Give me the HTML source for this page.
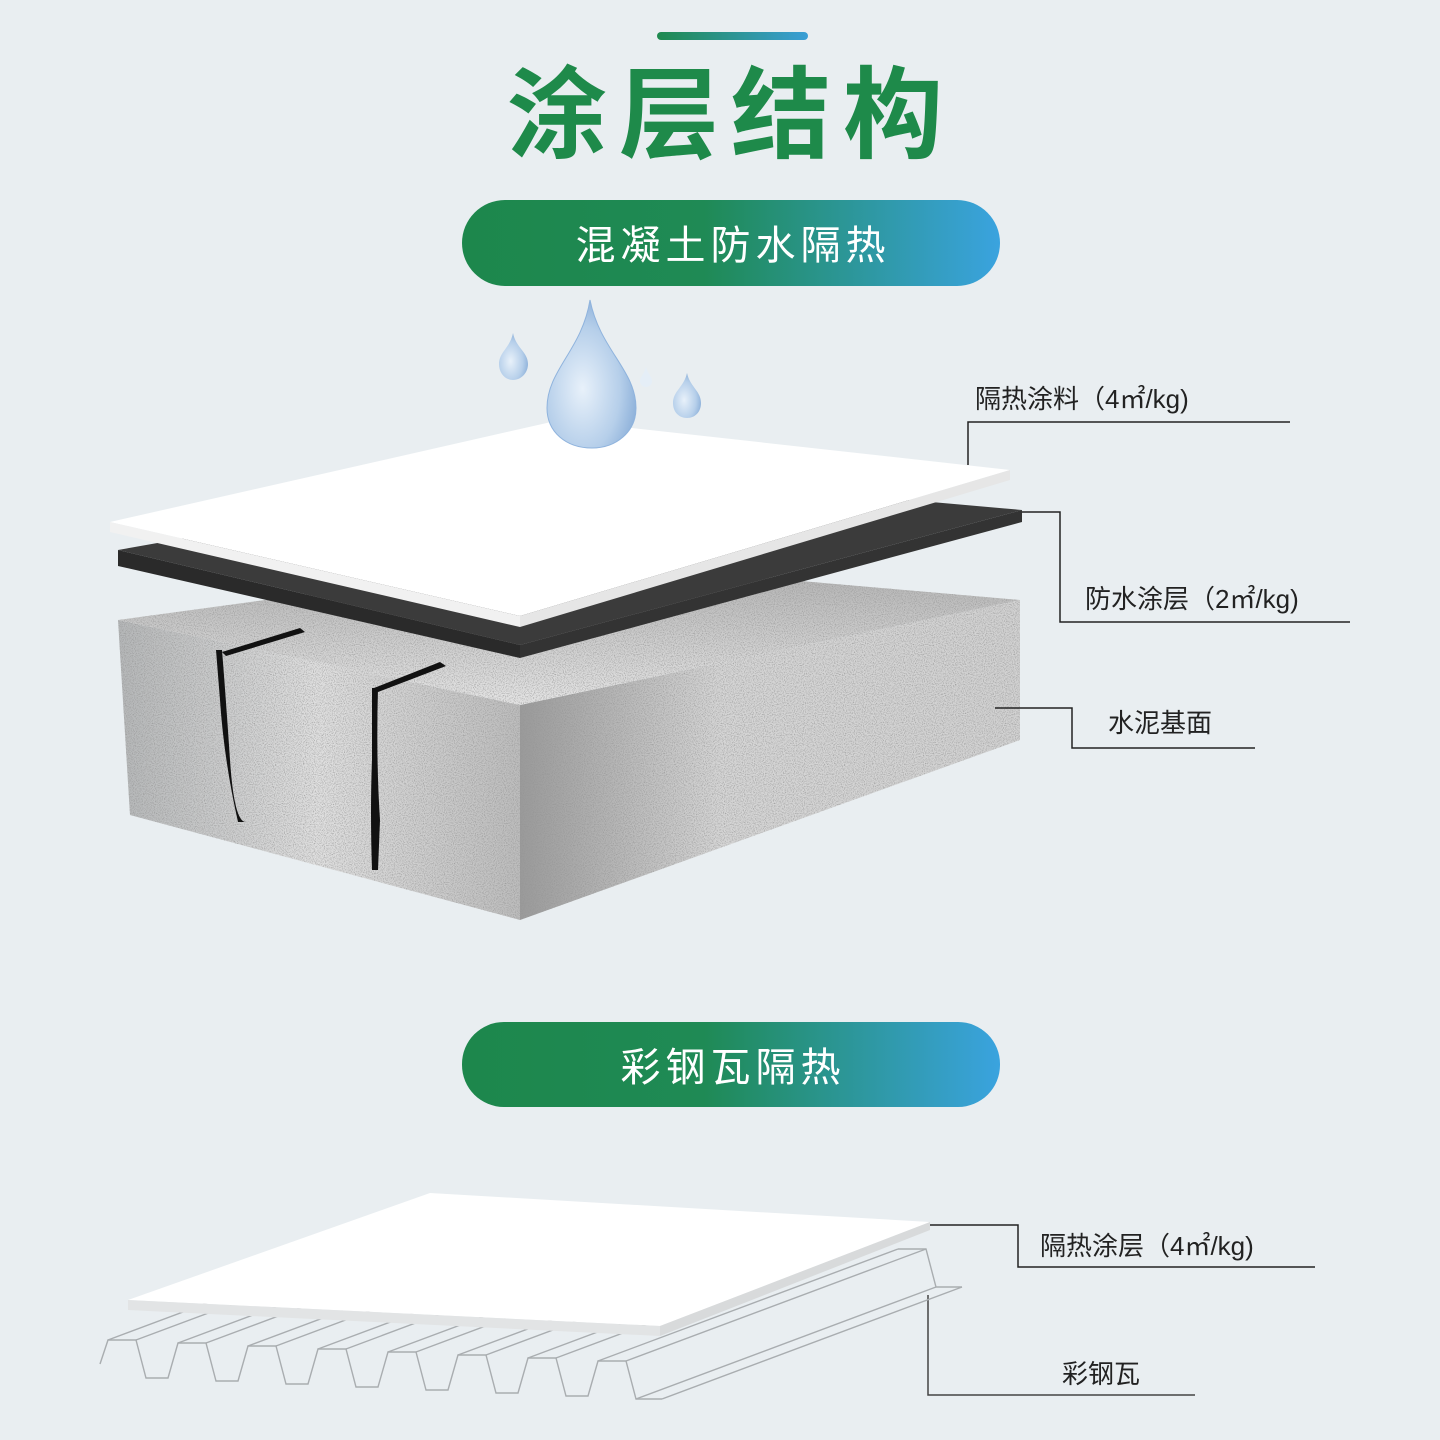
<!DOCTYPE html>
<html><head><meta charset="utf-8"><style>
html,body{margin:0;padding:0;background:#e9eef1;}
svg{display:block}
text{font-family:"Liberation Sans","Noto Sans CJK SC",sans-serif;}
</style></head><body>
<svg width="1440" height="1440" viewBox="0 0 1440 1440" xmlns="http://www.w3.org/2000/svg">
<defs>
<linearGradient id="pill" x1="0" x2="1" y1="0" y2="0">
<stop offset="0" stop-color="#1d874c"/><stop offset="0.45" stop-color="#1f8a55"/><stop offset="1" stop-color="#3aa3df"/>
</linearGradient>
<linearGradient id="bar" x1="0" x2="1"><stop offset="0" stop-color="#1f8a4f"/><stop offset="1" stop-color="#3a9ed6"/></linearGradient>
<radialGradient id="drop" cx="0.4" cy="0.6" r="0.7">
<stop offset="0" stop-color="#e8f1fa"/><stop offset="0.6" stop-color="#b6cfea"/><stop offset="1" stop-color="#7fa6d4"/>
</radialGradient>
<filter id="noise" x="0" y="0" width="1" height="1">
<feTurbulence type="fractalNoise" baseFrequency="0.9" numOctaves="2" seed="3" result="n"/>
<feColorMatrix in="n" type="matrix" values="0 0 0 0 0.3  0 0 0 0 0.3  0 0 0 0 0.3  0 0 0 -2.2 1.25" result="d"/>
<feComposite in="d" in2="SourceGraphic" operator="in" result="dd"/>
<feMerge><feMergeNode in="SourceGraphic"/><feMergeNode in="dd"/></feMerge>
</filter>
<linearGradient id="cl" x1="0" x2="1"><stop offset="0" stop-color="#b5b7b8"/><stop offset="0.5" stop-color="#e0e0e0"/><stop offset="1" stop-color="#bdbdbd"/></linearGradient>
<linearGradient id="cr" x1="0" x2="1"><stop offset="0" stop-color="#9a9a9a"/><stop offset="0.4" stop-color="#d6d6d6"/><stop offset="1" stop-color="#d2d2d2"/></linearGradient>
<linearGradient id="ct" x1="0" x2="0" y1="0" y2="1"><stop offset="0" stop-color="#b0b0b0"/><stop offset="1" stop-color="#e6e6e6"/></linearGradient>
</defs>

<rect width="1440" height="1440" fill="#e9eef1"/>
<rect x="657" y="32" width="151" height="8" rx="4" fill="url(#bar)"/>
<text x="731" y="150" text-anchor="middle" font-size="100" font-weight="bold" fill="#1e8a4a" letter-spacing="12">涂层结构</text>

<rect x="462" y="200" width="538" height="86" rx="43" fill="url(#pill)"/>
<text x="733" y="259" text-anchor="middle" font-size="40" fill="#fff" letter-spacing="5">混凝土防水隔热</text>

<!-- concrete block -->
<g filter="url(#noise)">
<polygon points="118,620 520,705 520,920 130,815" fill="url(#cl)"/>
<polygon points="520,705 1020,600 1020,740 520,920" fill="url(#cr)"/>
<polygon points="118,620 560,560 1020,600 520,705" fill="url(#ct)"/>
</g>
<!-- cracks -->
<path d="M222,650 Q226,700 230,760 T245,822 L238,822 Q224,760 220,700 L216,650 Z" fill="#111"/>
<path d="M222,652 L300,628 L305,632 L226,656Z" fill="#111"/>
<path d="M378,688 Q376,760 380,820 L378,870 L372,870 Q370,810 372,760 L372,688 Z" fill="#111"/>
<path d="M374,688 L440,662 L446,666 L378,692Z" fill="#111"/>

<!-- dark slab -->
<polygon points="118,550 570,470 1022,510 520,645" fill="#3b3b3b"/>
<polygon points="118,550 520,645 520,658 118,566" fill="#2a2a2a"/>
<polygon points="520,645 1022,510 1022,522 520,658" fill="#333"/>

<!-- white slab -->
<polygon points="110,522 560,420 1010,470 520,616" fill="#ffffff"/>
<polygon points="110,522 520,616 520,627 110,532" fill="#f1f1f1"/>
<polygon points="520,616 1010,470 1010,480 520,627" fill="#e6e6e6"/>

<!-- drops -->
<path d="M590,300 C600,350 636,370 636,408 C636,432 616,448 592,448 C566,448 547,432 547,408 C547,370 582,350 590,300Z" fill="url(#drop)" stroke="#8fb3dd" stroke-width="1"/>
<path d="M513,333 C516,348 528,352 528,364 C528,373 521,380 513,380 C505,380 499,373 499,364 C499,352 510,348 513,333Z" fill="url(#drop)"/>
<path d="M687,373 C690,387 701,391 701,403 C701,412 695,418 687,418 C679,418 673,412 673,403 C673,391 684,387 687,373Z" fill="url(#drop)"/>
<path d="M646,367 C648,374 652,377 652,381 C652,385 649,387 646,387 C643,387 640,385 640,381 C640,377 644,374 646,367Z" fill="#e5eef7"/>

<!-- labels -->
<g fill="none" stroke="#222" stroke-width="1.5">
<polyline points="968,465 968,422 1290,422"/>
<polyline points="1022,512 1060,512 1060,622 1350,622"/>
<polyline points="995,708 1072,708 1072,748 1255,748"/>
<polyline points="930,1225 1018,1225 1018,1267 1315,1267"/>
<polyline points="928,1295 928,1395 1195,1395" stroke="#444"/>
</g>
<g font-size="26" fill="#222">
<text x="975" y="408">隔热涂料（4㎡/kg)</text>
<text x="1085" y="608">防水涂层（2㎡/kg)</text>
<text x="1108" y="732">水泥基面</text>
<text x="1040" y="1255">隔热涂层（4㎡/kg)</text>
<text x="1062" y="1383">彩钢瓦</text>
</g>

<rect x="462" y="1022" width="538" height="85" rx="42" fill="url(#pill)"/>
<text x="733" y="1081" text-anchor="middle" font-size="40" fill="#fff" letter-spacing="5">彩钢瓦隔热</text>

<!-- corrugated steel -->
<g fill="none" stroke="#a9adb0" stroke-width="1.4">
<polyline points="100,1364 108,1340 136,1340 146,1378 168,1378 178,1343 206,1343 216,1381 238,1381 248,1346 276,1346 286,1384 308,1384 318,1349 346,1349 356,1387 378,1387 388,1352 416,1352 426,1390 448,1390 458,1355 486,1355 496,1393 518,1393 528,1358 556,1358 566,1396 588,1396 598,1361 626,1361 636,1399 662,1399"/>
<g>
<line x1="108" y1="1340" x2="408" y2="1228"/><line x1="136" y1="1340" x2="436" y2="1228"/>
<line x1="178" y1="1343" x2="478" y2="1231"/><line x1="206" y1="1343" x2="506" y2="1231"/>
<line x1="248" y1="1346" x2="548" y2="1234"/><line x1="276" y1="1346" x2="576" y2="1234"/>
<line x1="318" y1="1349" x2="618" y2="1237"/><line x1="346" y1="1349" x2="646" y2="1237"/>
<line x1="388" y1="1352" x2="688" y2="1240"/><line x1="416" y1="1352" x2="716" y2="1240"/>
<line x1="458" y1="1355" x2="758" y2="1243"/><line x1="486" y1="1355" x2="786" y2="1243"/>
<line x1="528" y1="1358" x2="828" y2="1246"/><line x1="556" y1="1358" x2="856" y2="1246"/>
<line x1="598" y1="1361" x2="898" y2="1249"/><line x1="626" y1="1361" x2="926" y2="1249"/>
<line x1="636" y1="1399" x2="936" y2="1287"/><line x1="662" y1="1399" x2="962" y2="1287"/>
<polyline points="898,1249 926,1249 936,1287 962,1287"/>
</g>
</g>
<polygon points="128,1300 430,1193 930,1222 660,1326" fill="#ffffff"/>
<polygon points="128,1300 660,1326 660,1336 128,1310" fill="#e2e4e5"/>
<polygon points="660,1326 930,1222 930,1230 660,1336" fill="#d8dadb"/>
</svg>
</body></html>
